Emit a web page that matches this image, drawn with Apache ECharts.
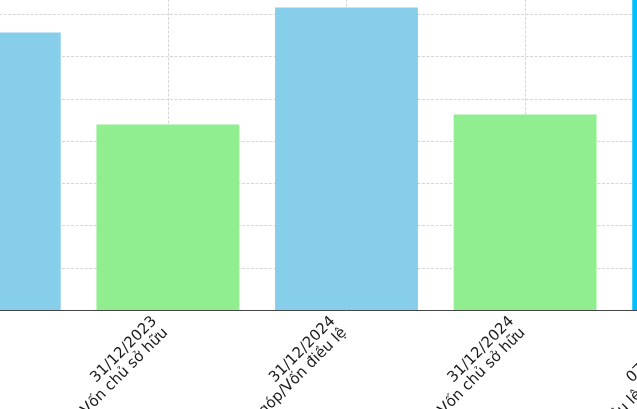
<!DOCTYPE html>
<html>
<head>
<meta charset="utf-8">
<script src="https://cdn.jsdelivr.net/npm/echarts@6/dist/echarts.min.js"></script>
<style>
html,body{margin:0;padding:0;background:#fff;overflow:hidden;width:637px;height:409px;position:relative;}
#c{position:absolute;left:-100px;top:-28px;width:893px;height:437px;}
</style>
</head>
<body>
<div id="c"></div>
<script>
const categories = [
  "31/12/2023\nVốn góp/Vốn điều lệ",
  "31/12/2023\nVốn chủ sở hữu",
  "31/12/2024\nVốn góp/Vốn điều lệ",
  "31/12/2024\nVốn chủ sở hữu",
  "07/03/2025\nVốn điều lệ đã đăng ký"
];
const values = [657, 439, 716, 463, 790];
const yTicks = [0, 100, 200, 300, 400, 500, 600, 700, 800];
const barColors = ["#87CEEB", "#90EE90", "#87CEEB", "#90EE90", "#00BFFF"];

const gridPositions = [];
for (let i = 0; i <= categories.length * 2; i++) gridPositions.push(String(i));

const chart = echarts.init(document.getElementById('c'), null, {renderer: 'canvas', width: 893, height: 437});
chart.setOption({
  animation: false,
  backgroundColor: '#ffffff',
  grid: { left: 0, right: 0, top: 0, bottom: 99, containLabel: false, outerBoundsMode: 'none' },
  xAxis: [{
    type: 'category',
    data: categories,
    boundaryGap: true,
    axisLine: { show: true, lineStyle: { color: '#444', width: 1 } },
    axisTick: { show: true, alignWithLabel: true, inside: true, length: 4, lineStyle: { color: '#444' } },
    axisLabel: {
      rotate: 45, margin: 7, interval: 0,
      fontFamily: 'DejaVu Sans', fontSize: 15, lineHeight: 16, color: '#1a1a1a',
      padding: [0, 11, 0, 0]
    },
    splitLine: { show: false }
  }, {
    type: 'category',
    data: gridPositions,
    boundaryGap: false,
    position: 'bottom',
    axisLine: { show: false }, axisTick: { show: false }, axisLabel: { show: false },
    splitLine: { show: true, interval: (i) => i % 2 === 1, lineStyle: { color: '#cccccc', type: [3, 1.5], width: 0.8 } }
  }],
  yAxis: {
    type: 'value',
    min: yTicks[0], max: yTicks[yTicks.length - 1], interval: yTicks[1] - yTicks[0],
    axisLine: { show: false }, axisTick: { show: false }, axisLabel: { show: false },
    splitLine: { show: true, lineStyle: { color: '#cccccc', type: [3, 1.5], width: 0.8 } }
  },
  series: [{
    type: 'bar',
    data: values,
    xAxisIndex: 0,
    barWidth: '80%',
    itemStyle: { color: (p) => barColors[p.dataIndex] }
  }]
});
</script>
</body>
</html>
